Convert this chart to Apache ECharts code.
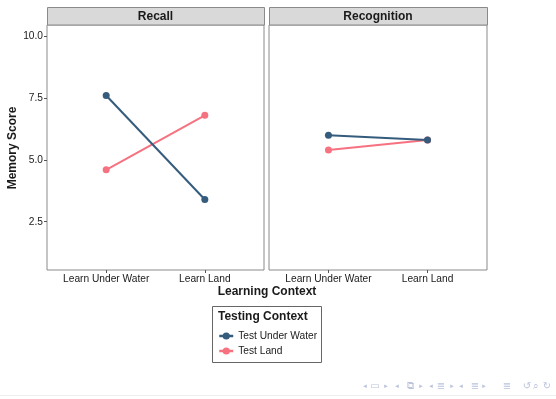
<!DOCTYPE html>
<html>
<head>
<meta charset="utf-8">
<script src="https://cdn.jsdelivr.net/npm/echarts@6/dist/echarts.min.js"></script>
<style>
  html, body { margin: 0; padding: 0; background: #ffffff; }
  #chart { width: 556px; height: 399px; }
</style>
</head>
<body>
<div id="chart"></div>
<script>
// Facet panels and category labels
const panels = ['Recall', 'Recognition'];
const learnContexts = ['Learn Under Water', 'Learn Land'];
const yTicks = [2.5, 5.0, 7.5, 10.0];

// Memory scores by testing context (order follows learnContexts)
const recallUnderWater = [7.6, 3.4];
const recallLand = [4.6, 6.8];
const recognitionUnderWater = [6.0, 5.8];
const recognitionLand = [5.4, 5.8];

const seriesNames = ['Test Under Water', 'Test Land'];
const colors = ['#355C7D', '#F67280'];

const FONT = 'Liberation Sans, Arial, Helvetica, sans-serif';
const TEXT = '#1a1a1a';
const BORDER = '#8a8a8a';

const gridBoxes = [
  { left: 47, top: 25, width: 217, height: 245 },
  { left: 269, top: 25, width: 218, height: 245 }
];

function pairs(vals) {
  return vals.map((v, i) => [i + 1, v]);
}

const xAxes = gridBoxes.map((g, i) => ({
  type: 'value',
  gridIndex: i,
  min: 0.4,
  max: 2.6,
  axisLine: { show: false },
  splitLine: { show: false },
  axisTick: {
    show: true,
    customValues: [1, 2],
    length: 3,
    lineStyle: { color: '#555' }
  },
  axisLabel: {
    customValues: [1, 2],
    formatter: v => learnContexts[Math.round(v) - 1],
    color: TEXT,
    fontFamily: FONT,
    fontSize: 10.2,
    margin: 4
  }
}));

const yAxes = gridBoxes.map((g, i) => ({
  type: 'value',
  gridIndex: i,
  min: 0.55,
  max: 10.45,
  axisLine: { show: false },
  splitLine: { show: false },
  axisTick: {
    show: i === 0,
    customValues: yTicks,
    length: 3,
    lineStyle: { color: '#555' }
  },
  axisLabel: {
    show: i === 0,
    customValues: yTicks,
    formatter: v => v.toFixed(1),
    color: TEXT,
    fontFamily: FONT,
    fontSize: 10.2,
    margin: 4
  }
}));

const panelData = [
  [recallUnderWater, recallLand],
  [recognitionUnderWater, recognitionLand]
];

const series = [];
panelData.forEach((groups, p) => {
  groups.forEach((vals, s) => {
    series.push({
      name: seriesNames[s],
      type: 'line',
      xAxisIndex: p,
      yAxisIndex: p,
      data: pairs(vals),
      symbol: 'circle',
      symbolSize: 7,
      z: 10 - s,
      lineStyle: { color: colors[s], width: 2 },
      itemStyle: { color: colors[s] },
      emphasis: { disabled: true },
      silent: true,
      animation: false
    });
  });
});

// Strip headers over each panel
const strips = [];
gridBoxes.forEach((g, i) => {
  strips.push({
    type: 'rect',
    shape: { x: g.left + 0.5, y: 7.5, width: g.width, height: 17.5 },
    style: { fill: '#d9d9d9', stroke: BORDER, lineWidth: 1 },
    silent: true
  });
  strips.push({
    type: 'text',
    x: g.left + g.width / 2,
    y: 16.5,
    style: {
      text: panels[i],
      fill: TEXT,
      font: 'bold 12px ' + FONT,
      align: 'center',
      verticalAlign: 'middle'
    },
    silent: true
  });
});

// Slide navigation glyphs along the bottom edge
const navGlyphs = ['◂', '▭', '▸', '◂', '⧉', '▸', '◂', '≣', '▸', '◂', '≣', '▸', '≣', '↺', '⌕', '↻'];
const navX = [365, 375, 386, 397, 410, 421, 431, 441, 452, 461, 475, 484, 507, 527, 536, 547];
const navItems = navGlyphs.map((g, i) => ({
  type: 'text',
  x: navX[i],
  y: 386,
  style: {
    text: g,
    fill: '#bcc3dc',
    font: (g === '◂' || g === '▸' ? '7px' : '10px') + ' DejaVu Sans, sans-serif',
    align: 'center',
    verticalAlign: 'middle'
  },
  silent: true
}));

const option = {
  backgroundColor: '#ffffff',
  animation: false,
  grid: gridBoxes.map(g => Object.assign({
    show: true,
    borderColor: BORDER,
    borderWidth: 1,
    backgroundColor: '#ffffff',
    containLabel: false
  }, g)),
  xAxis: xAxes,
  yAxis: yAxes,
  series: series,
  legend: {
    data: seriesNames,
    orient: 'vertical',
    left: 218,
    top: 331,
    padding: 0,
    itemWidth: 14,
    itemHeight: 9,
    itemGap: 5,
    selectedMode: false,
    lineStyle: { width: 2.5 },
    textStyle: { color: TEXT, fontFamily: FONT, fontSize: 10.2 }
  },
  graphic: strips.concat([
    {
      type: 'text',
      x: 13,
      y: 148,
      rotation: Math.PI / 2,
      style: {
        text: 'Memory Score',
        fill: TEXT,
        font: 'bold 12px ' + FONT,
        align: 'center',
        verticalAlign: 'middle'
      },
      silent: true
    },
    {
      type: 'text',
      x: 267,
      y: 292,
      style: {
        text: 'Learning Context',
        fill: TEXT,
        font: 'bold 12px ' + FONT,
        align: 'center',
        verticalAlign: 'middle'
      },
      silent: true
    },
    {
      type: 'rect',
      shape: { x: 212.5, y: 306.5, width: 109, height: 56 },
      style: { fill: 'none', stroke: '#666', lineWidth: 1 },
      silent: true
    },
    {
      type: 'text',
      x: 218,
      y: 317,
      style: {
        text: 'Testing Context',
        fill: TEXT,
        font: 'bold 12px ' + FONT,
        align: 'left',
        verticalAlign: 'middle'
      },
      silent: true
    },
    {
      type: 'line',
      shape: { x1: 0, y1: 395.5, x2: 556, y2: 395.5 },
      style: { stroke: '#eeeeee', lineWidth: 1 },
      silent: true
    }
  ]).concat(navItems)
};

const chart = echarts.init(document.getElementById('chart'), null, { renderer: 'canvas' });
chart.setOption(option);
</script>
</body>
</html>
